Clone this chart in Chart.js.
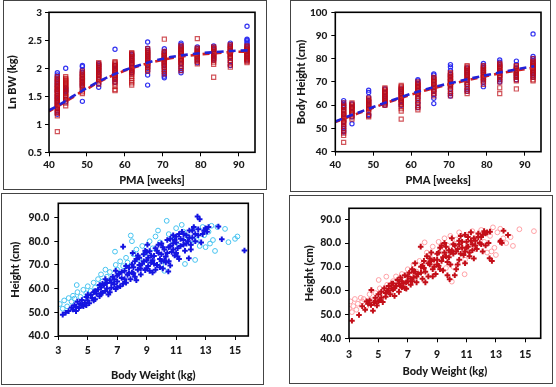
<!DOCTYPE html>
<html><head><meta charset="utf-8">
<script src="https://cdn.jsdelivr.net/npm/chart.js@4"></script>
<style>
html,body{margin:0;padding:0;background:#fff;width:556px;height:387px;overflow:hidden}
.panel{position:absolute;border:1px solid #444;box-sizing:border-box}
canvas{position:absolute;left:0;top:0}
</style></head><body>
<div class="panel" style="left:3px;top:0;width:264px;height:190px"></div>
<div class="panel" style="left:290px;top:0;width:261px;height:192px"></div>
<div class="panel" style="left:1px;top:193px;width:263px;height:192px"></div>
<div class="panel" style="left:289px;top:195px;width:264px;height:189px"></div>
<canvas id="c1" width="556" height="387"></canvas>
<canvas id="c2" width="556" height="387"></canvas>
<canvas id="c3" width="556" height="387"></canvas>
<canvas id="c4" width="556" height="387"></canvas>
<script>
// ---------- DATA ----------
const pmaGroups = [42.2, 44.4, 48.8, 53.1, 57.4, 61.8, 66.0, 70.4, 74.8, 79.1, 83.4, 87.8, 92.2];
const pmaTicks = [40, 50, 60, 70, 80, 90];
const lnBwTicks = [0.5, 1, 1.5, 2, 2.5, 3];
const heightTicksTop = [40, 50, 60, 70, 80, 90, 100];
const weightTicks = [3, 5, 7, 9, 11, 13, 15];
const heightTicksBottom = [40, 50, 60, 70, 80, 90];

// Ln BW per PMA group
const lnBwBlue = [
 [1.92,1.88,1.85,1.80,1.76,1.72,1.68,1.62,1.58,1.52,1.47,1.42,1.38,1.33,1.28,1.22,1.18],
 [2.00,1.65,1.62,1.60,1.58,1.45,1.40],
 [2.05,2.03,1.97,1.93,1.88,1.82,1.77,1.72,1.68,1.41],
 [2.08,2.05,2.02,1.98,1.93,1.88,1.80,1.72,1.66],
 [2.34,2.05,2.00,1.96,1.92,1.85,1.80,1.75],
 [2.25,2.22,2.18,2.14,2.08,2.02,1.96,1.92],
 [2.47,2.36,2.32,2.28,2.24,2.20,2.15,2.10,2.05,2.00,1.95,1.88,1.70],
 [2.35,2.30,2.25,2.20,2.15,2.10,2.05,2.00,1.95,1.90,1.86,1.83],
 [2.45,2.42,2.38,2.33,2.28,2.22,2.15,2.08,2.02,1.96,1.92],
 [2.38,2.35,2.30,2.25,2.20,2.15,2.10],
 [2.40,2.37,2.34,2.30,2.26,2.22,2.18,2.15],
 [2.45,2.42,2.38,2.32,2.26,2.20,2.12,2.05],
 [2.75,2.52,2.50,2.47,2.44,2.40,2.35,2.30,2.25,2.20,2.15]
];
const lnBwRed = [
 [1.85,1.82,1.80,1.77,1.75,1.72,1.70,1.68,1.66,1.64,1.62,1.60,1.58,1.56,1.55,1.52,1.50,1.48,1.46,1.45,1.42,1.40,1.38,1.36,1.34,1.32,1.30,1.28,1.25,1.22,1.20,1.15,0.87],
 [1.85,1.82,1.80,1.78,1.76,1.74,1.72,1.70,1.68,1.66,1.64,1.62,1.60,1.57,1.55,1.52,1.50,1.48,1.45,1.43,1.38,1.33],
 [1.95,1.92,1.90,1.88,1.86,1.84,1.82,1.80,1.78,1.76,1.74,1.72,1.70,1.68,1.66,1.62,1.58,1.55],
 [2.10,2.08,2.06,2.04,2.02,2.00,1.98,1.96,1.95,1.92,1.90,1.88,1.86,1.84,1.82,1.80,1.76,1.72],
 [2.12,2.10,2.08,2.06,2.04,2.02,2.00,1.98,1.96,1.94,1.92,1.90,1.88,1.86,1.84,1.82,1.80,1.76,1.72,1.68,1.62,1.60],
 [2.28,2.26,2.25,2.22,2.20,2.18,2.16,2.14,2.12,2.10,2.08,2.06,2.04,2.02,2.00,1.98,1.96,1.94,1.92,1.90,1.86,1.82,1.78,1.74,1.70],
 [2.35,2.32,2.30,2.28,2.26,2.24,2.22,2.20,2.18,2.16,2.14,2.12,2.10,2.08,2.06,2.04,2.02,1.98,1.95],
 [2.52,2.30,2.28,2.26,2.24,2.22,2.20,2.18,2.16,2.14,2.12,2.10,2.08,2.06,2.04,2.02,1.98,1.94,1.90],
 [2.40,2.38,2.36,2.34,2.32,2.30,2.28,2.26,2.24,2.22,2.20,2.18,2.16,2.14,2.12,2.10,2.08,2.04,2.00,1.96],
 [2.53,2.36,2.34,2.32,2.30,2.28,2.26,2.24,2.22,2.20,2.18,2.16,2.14,2.12,2.08],
 [2.38,2.36,2.35,2.33,2.31,2.29,2.27,2.25,2.23,2.21,2.19,2.17,2.15,2.11,2.07,1.84],
 [2.42,2.40,2.38,2.36,2.34,2.32,2.30,2.28,2.26,2.24,2.22,2.20,2.18,2.14,2.10,2.06,2.02],
 [2.40,2.38,2.36,2.34,2.32,2.30,2.28,2.26,2.24,2.22,2.20,2.18,2.16,2.14,2.12,2.10]
];
const lnBwFitPma = [40, 42, 44, 46, 48, 50, 53, 56, 60, 64, 68, 72, 76, 80, 84, 88, 92.5];
const lnBwFitBlue = [1.25, 1.32, 1.40, 1.49, 1.57, 1.65, 1.76, 1.86, 1.97, 2.06, 2.14, 2.20, 2.24, 2.27, 2.29, 2.31, 2.32];
const lnBwFitRed  = [1.23, 1.31, 1.39, 1.47, 1.56, 1.63, 1.75, 1.85, 1.96, 2.05, 2.12, 2.18, 2.22, 2.25, 2.27, 2.29, 2.30];

// Body height per PMA group
const heightBlue = [
 [62,61,60,59,58,56,55,53,51,50,49,48.5],
 [60.5,59,57,55,52],
 [66.5,65.5,63.5,62,61,60,58.5,56,55.5],
 [67,65.5,64,63,62,61,60],
 [67,66,65,63,62,60],
 [71,70.5,69.5,68,66.5,65,63,61,59],
 [73.5,73,72,70.5,69,67.5,66,64.5,63,60.7],
 [77.5,76.5,75,73.5,72.5,71,69,67,65,64],
 [76,75,74,73,71,69,67,66],
 [78,77,76,75,74,72.5,71,70,68],
 [79.5,78.5,77.5,76.5,75,74,72.5,71,70],
 [79,77.5,76,75,74,73,72,71],
 [90.7,81,80,79,78,77,76,75,74,73,72]
];
const heightRed = [
 [61,60,59.5,59,58,57.5,57,56.5,56,55.5,55,54.5,54,53.5,53,52.5,52,51,50,49,48,47,44],
 [61,60.5,60,59.5,59,58.5,58,57.5,57,56.5,56,55,54],
 [63,62.5,62,61.5,61,60.5,60,59.5,59,58.5,58,57,55.5,55],
 [67.5,67,66.5,66,65.5,65,64.5,64,63.5,63,62.5,62,61.5,61,60.5,60],
 [68.5,68,67.5,67,66.5,66,65.5,65,64.5,64,63.5,63,62.5,62,61.5,61,60.5,59.5,58.5,57.5,54],
 [70,69.5,69,68.5,68,67.5,67,66.5,66,65.5,65,64.5,64,63,62,61,60,59,58],
 [72,71.5,71,70.5,70,69.5,69,68.5,68,67.5,67,66.5,66,65,64],
 [74,73.5,73,72.5,72,71.5,71,70.5,70,69.5,69,68.5,68,67,66,65,64],
 [77,76.5,76,75.5,75,74.5,74,73.5,73,72.5,72,71.5,71,70.5,70,69,68,67,66,65],
 [77,76.5,76,75.5,75,74.5,74,73.5,73,72.5,72,71.5,71,70,69],
 [78,77.5,77,76.5,76,75.5,75,74.5,74,73.5,73,72.5,72,71,70,67.5,65],
 [77,76.5,76,75.5,75,74.5,74,73.5,73,72.5,72,71,70.5,67],
 [80,79,78.5,78,77.5,77,76.5,76,75.5,75,74.5,74,73.5,73,72,71,70.5]
];
const heightFitBlue = [53.0, 54.3, 55.6, 56.8, 58.0, 59.2, 61.0, 62.7, 65.0, 66.9, 68.6, 70.1, 71.6, 73.0, 74.3, 75.5, 76.8];
const heightFitRed  = [52.8, 54.0, 55.3, 56.5, 57.7, 58.9, 60.7, 62.4, 64.6, 66.5, 68.2, 69.7, 71.2, 72.6, 73.9, 75.0, 76.2];

// Weight (kg) vs Height (cm), bottom-left
const boysDark = [[3.3,49.0],[3.5,49.8],[3.7,50.5],[3.9,52.0],[4.0,51.2],[4.1,53.0],[4.2,52.3],[4.3,54.5],[4.4,51.8],[4.5,53.5],[4.6,55.2],[4.7,52.6],[4.8,54.0],[4.9,56.5],[5.0,55.0],[5.1,53.8],[5.2,57.3],[5.3,56.0],[5.4,58.5],[5.5,55.5],[5.6,57.8],[5.7,59.6],[5.8,56.8],[5.9,60.5],[6.0,58.2],[6.1,61.5],[6.2,59.0],[6.3,62.4],[6.4,57.5],[6.5,63.5],[6.6,60.4],[6.7,65.0],[6.8,61.8],[6.9,59.8],[7.0,63.0],[7.1,66.2],[7.2,61.0],[7.3,64.5],[7.4,77.7],[7.5,67.5],[7.6,62.5],[7.7,65.8],[7.8,68.8],[7.9,64.0],[8.0,70.2],[8.05,75.0],[8.1,66.5],[8.2,71.5],[8.3,63.5],[8.4,68.0],[8.5,73.0],[8.6,66.0],[8.7,70.5],[8.8,74.5],[8.9,67.8],[9.0,72.0],[9.05,78.5],[9.1,69.5],[9.2,75.8],[9.3,71.0],[9.4,66.8],[9.5,73.8],[9.6,77.0],[9.7,70.0],[9.8,75.0],[9.9,72.5],[10.0,79.0],[10.1,68.5],[10.2,76.5],[10.3,73.5],[10.4,80.5],[10.5,71.5],[10.47,67.2],[10.6,78.0],[10.7,75.5],[10.8,82.5],[10.9,74.0],[11.0,79.5],[11.1,77.0],[11.2,72.5],[11.3,81.0],[11.4,84.0],[11.5,78.5],[11.6,76.0],[11.7,82.5],[11.8,80.0],[11.86,72.8],[11.9,84.5],[12.0,78.5],[12.1,81.5],[12.2,86.0],[12.3,83.0],[12.45,90.4],[12.5,85.0],[12.6,89.3],[12.7,79.5],[12.8,83.0],[13.0,85.5],[13.1,84.0],[13.87,86.2],[14.1,80.8],[15.64,76.1],
 [6.0,62.0],[6.5,58.5],[7.0,60.5],[7.5,64.0],[8.0,66.8],[8.5,70.0],[9.0,68.5],[9.0,75.5],[9.5,70.5],[10.0,74.5],[10.5,77.5],[11.0,75.0],[11.5,80.5],[8.2,65.0],[8.8,71.5],[9.3,74.0],[9.8,78.5],[10.3,71.0],[10.8,79.0],[7.3,67.0],[6.8,64.0],[5.5,59.0],[4.9,53.0],[5.8,61.5],[6.3,60.0],[12.0,76.5],[11.2,83.0],[10.6,69.8],[9.6,68.0],
 [4.2,50.5],[4.6,53.0],[5.0,57.5],[5.4,55.0],[5.9,58.0],[6.2,64.0],[6.6,62.5],[7.0,65.5],[7.4,62.0],[7.8,66.5],[8.1,69.0],[8.3,72.5],[8.6,68.5],[8.9,76.0],[9.1,73.0],[9.4,72.0],[9.7,76.0],[9.9,69.0],[10.1,77.5],[10.2,72.0],[10.4,75.0],[10.6,81.0],[10.8,76.5],[11.0,82.0],[11.1,73.5],[11.3,78.0],[11.5,83.0],[11.7,79.0],[11.9,81.5],[12.1,84.5],[12.3,80.0],[12.5,82.5],[12.9,84.5],[13.2,86.0],[7.6,69.5],[8.4,74.0],[9.2,67.5],[10.0,71.5],[10.9,80.5],[6.9,67.5]];
const boysLight = [[3.1,53.5],[3.3,51.5],[3.4,55.0],[3.6,52.5],[3.7,56.0],[3.9,54.5],[4.0,57.0],[4.1,55.8],[4.25,61.5],[4.3,58.5],[4.5,56.5],[4.7,59.5],[4.9,58.0],[5.0,61.0],[5.2,59.0],[5.4,62.5],[5.5,60.5],[5.7,64.0],[5.9,66.0],[6.0,63.0],[6.2,68.0],[6.3,65.0],[6.5,67.0],[6.6,63.5],[6.85,75.6],[6.9,70.0],[7.0,68.0],[7.2,71.5],[7.4,69.5],[7.6,73.0],[7.7,71.0],[7.92,82.4],[8.0,80.0],[8.1,74.5],[8.3,76.5],[8.5,72.5],[8.7,78.0],[8.9,75.0],[9.0,70.5],[9.2,80.0],[9.4,77.0],[9.6,82.0],[9.77,84.5],[9.9,79.5],[10.0,70.0],[10.2,67.5],[10.36,88.6],[10.5,83.0],[10.7,80.5],[11.0,85.5],[11.2,78.0],[11.38,86.9],[11.5,84.0],[11.6,70.4],[11.8,82.0],[12.0,79.0],[12.2,85.5],[12.29,72.1],[12.4,80.5],[12.6,78.0],[12.8,86.0],[13.0,77.5],[13.2,84.0],[13.4,86.5],[13.5,80.5],[13.64,75.9],[13.8,86.0],[14.32,85.2],[14.55,79.6],[15.0,81.0],[15.16,82.0],[12.9,82.5],[13.3,79.0]];

// Weight (kg) vs Height (cm), bottom-right
const girlsDark = [[3.2,47.4],[3.68,49.8],[3.9,53.5],[4.1,52.0],[4.3,54.5],[4.4,56.0],[4.52,60.3],[4.63,51.6],[4.7,55.0],[4.8,57.0],[4.9,53.8],[5.0,58.5],[5.1,56.0],[5.2,59.5],[5.3,55.2],[5.4,61.0],[5.5,57.5],[5.6,60.0],[5.7,62.0],[5.8,58.5],[5.9,63.0],[6.0,60.5],[6.1,57.8],[6.2,62.0],[6.3,64.5],[6.4,59.5],[6.5,65.5],[6.6,61.5],[6.7,63.0],[6.8,66.5],[6.9,60.8],[7.0,64.0],[7.1,67.5],[7.2,62.5],[7.3,69.0],[7.4,65.5],[7.5,71.5],[7.6,63.5],[7.7,67.0],[7.88,78.5],[7.9,70.0],[8.0,65.0],[8.1,72.5],[8.2,68.0],[8.3,74.5],[8.4,66.0],[8.5,71.0],[8.6,76.0],[8.7,69.0],[8.8,73.0],[8.9,67.0],[9.0,75.5],[9.1,70.5],[9.2,78.0],[9.3,72.5],[9.4,68.5],[9.5,80.0],[9.6,74.5],[9.7,66.5],[9.85,64.8],[9.8,77.0],[9.9,71.0],[10.0,82.0],[10.1,75.5],[10.2,79.0],[10.3,69.0],[10.4,77.5],[10.5,73.0],[10.6,83.0],[10.7,80.5],[10.8,75.0],[10.9,71.5],[11.0,78.0],[11.1,82.5],[11.2,76.0],[11.3,84.5],[11.4,79.5],[11.5,73.5],[11.6,81.0],[11.7,77.5],[11.8,84.0],[11.9,80.0],[12.0,82.5],[12.1,76.5],[12.2,85.0],[12.3,79.0],[12.4,84.5],[12.57,73.6],[12.73,72.5],[13.32,81.0],[13.4,80.0],[13.52,85.2],[13.82,83.4],
 [6.0,63.0],[6.5,62.0],[7.0,66.0],[7.5,68.0],[8.0,70.5],[8.5,73.5],[9.0,73.0],[9.5,76.0],[10.0,77.0],[10.5,79.5],[11.0,80.5],[11.5,82.0],[8.2,63.5],[8.7,66.0],[9.2,69.0],[9.8,74.0],[10.4,71.0],[10.9,76.5],[7.3,64.0],[6.8,61.0],[5.5,59.0],[5.0,55.5],[4.5,54.0],[12.0,79.5],[11.2,74.5],[10.2,66.5],[9.3,79.0],[12.5,80.0],[13.3,80.5],
 [4.2,55.5],[4.8,55.5],[5.2,57.0],[5.7,60.0],[6.1,61.0],[6.4,63.0],[6.9,63.5],[7.2,65.0],[7.6,66.0],[7.9,67.5],[8.1,69.5],[8.4,71.5],[8.8,70.0],[9.0,71.0],[9.1,76.0],[9.4,74.0],[9.6,78.5],[9.9,76.0],[10.1,79.5],[10.3,76.5],[10.5,81.0],[10.7,78.0],[10.9,83.5],[11.1,78.5],[11.3,81.0],[11.6,79.0],[11.8,82.5],[12.1,83.5],[12.3,84.0],[12.6,84.8],[8.6,72.5],[9.7,72.0],[10.6,75.5],[11.4,77.0],[7.4,68.0],[6.6,64.0],[5.9,61.0]];
const girlsLight = [[3.0,52.5],[3.1,55.5],[3.2,51.0],[3.3,53.5],[3.4,56.5],[3.5,52.0],[3.6,54.5],[3.8,57.0],[3.9,55.5],[4.0,56.5],[4.2,53.5],[4.4,58.5],[4.6,56.0],[4.8,59.0],[5.02,64.5],[5.1,61.0],[5.3,58.5],[5.54,65.9],[5.6,62.5],[5.8,60.0],[6.0,64.0],[6.2,66.0],[6.4,62.0],[6.6,67.0],[6.8,64.5],[7.0,69.0],[7.2,66.5],[7.4,71.0],[7.6,68.0],[7.8,72.5],[8.0,70.0],[8.15,80.3],[8.3,76.0],[8.5,74.0],[8.7,78.5],[8.9,72.0],[9.1,80.5],[9.3,76.5],[9.5,82.0],[9.7,79.0],[9.9,83.0],[10.0,63.8],[10.1,70.0],[10.3,81.5],[10.5,84.5],[10.7,78.0],[10.87,66.9],[11.0,83.5],[11.2,80.0],[11.4,85.0],[11.6,77.5],[11.8,83.0],[12.0,85.5],[12.2,80.5],[12.4,76.0],[12.6,83.0],[12.8,86.6],[12.9,78.0],[13.0,75.0],[13.1,84.5],[13.3,86.0],[13.5,82.0],[13.7,80.0],[14.0,82.5],[14.16,78.8],[14.6,85.8],[15.59,85.0],[12.7,76.5],[9.6,69.5],[10.9,73.0]];

// ---------- RENDERING ----------
const TXT = '#1a1a1a';
const FONT = 'Lato, sans-serif';

const framePlugin = {
  id: 'frame',
  afterDatasetsDraw(chart) {
    const {ctx, chartArea: a} = chart;
    ctx.save();
    ctx.strokeStyle = '#000';
    ctx.lineWidth = 1.6;
    ctx.strokeRect(a.left, a.top, a.right - a.left, a.bottom - a.top);
    ctx.restore();
  }
};

function groupPoints(groups) {
  const pts = [];
  groups.forEach((vals, i) => vals.forEach(v => pts.push({x: pmaGroups[i], y: v})));
  return pts;
}
function pairPoints(list) { return list.map(p => ({x: p[0], y: p[1]})); }
function linePoints(xs, ys) { return xs.map((x, i) => ({x: x, y: ys[i]})); }

function makeChart(id, datasets, o) {
  const axLeft = o.yTitleX - 6.6;
  const axBottom = o.xTitleY + 6.6;
  const tickFont = {family: FONT, size: o.tickSize, weight: 900};
  const titleFont = {family: FONT, size: o.titleSize, weight: 900};
  new Chart(document.getElementById(id), {
    type: 'scatter',
    data: {datasets: datasets},
    plugins: [framePlugin],
    options: {
      responsive: false, animation: false,
      layout: {padding: {left: axLeft, top: o.T, right: 556 - o.R, bottom: 387 - axBottom}},
      plugins: {legend: {display: false}, tooltip: {enabled: false}},
      scales: {
        x: {
          type: 'linear', min: o.xmin, max: o.xmax,
          afterBuildTicks: s => { s.ticks = o.xticks.map(v => ({value: v})); },
          ticks: {padding: o.xpad, color: TXT, font: tickFont, maxRotation: 0, autoSkip: false, callback: o.xfmt || (v => String(v))},
          grid: {display: true, drawOnChartArea: false, drawTicks: true, tickLength: 4, color: '#000', lineWidth: 1},
          border: {display: false},
          title: {display: true, text: o.xtitle, color: TXT, font: titleFont, padding: 0},
          afterFit: s => { s.height = axBottom - o.B; }
        },
        y: {
          type: 'linear', min: o.ymin, max: o.ymax,
          afterBuildTicks: s => { s.ticks = o.yticks.map(v => ({value: v})); },
          ticks: {padding: o.ypad, color: TXT, font: tickFont, autoSkip: false, callback: o.yfmt || (v => String(v))},
          grid: {display: true, drawOnChartArea: false, drawTicks: true, tickLength: 4, color: '#000', lineWidth: 1},
          border: {display: false},
          title: {display: true, text: o.ytitle, color: TXT, font: titleFont, padding: 0},
          afterFit: s => { s.width = o.L - axLeft; }
        }
      }
    }
  });
}

const BLUE = 'rgba(40,40,240,0.95)';
const RED = 'rgba(190,12,20,0.7)';
function dashLine(xs, ys, color, offset) {
  return {data: linePoints(xs, ys), showLine: true, borderColor: color, borderWidth: 2.6,
          borderDash: [7, 5], borderDashOffset: offset, pointRadius: 0, fill: false};
}
function circles(pts, color, r, w) {
  return {data: pts, pointStyle: 'circle', pointRadius: r, pointBorderWidth: w,
          pointBorderColor: color, pointBackgroundColor: 'rgba(0,0,0,0)', borderColor: color};
}
function squares(pts, color) {
  return {data: pts, pointStyle: 'rect', pointRadius: 2.9, pointBorderWidth: 1.2,
          pointBorderColor: color, pointBackgroundColor: 'rgba(0,0,0,0)', borderColor: color};
}
function pluses(pts, color) {
  return {data: pts, pointStyle: 'cross', pointRadius: 2.8, pointBorderWidth: 2,
          pointBorderColor: color, borderColor: color};
}

makeChart('c1', [
  dashLine(lnBwFitPma, lnBwFitBlue, '#2222d8', 0),
  dashLine(lnBwFitPma, lnBwFitRed, '#d42020', 2),
  squares(groupPoints(lnBwRed), RED),
  circles(groupPoints(lnBwBlue), BLUE, 2.1, 1.2)
], {L: 49, T: 12.3, R: 255, B: 152.3, yTitleX: 12, xTitleY: 180, tickSize: 10, titleSize: 11,
    xmin: 40, xmax: 94.3, ymin: 0.5, ymax: 3, xticks: pmaTicks, yticks: lnBwTicks,
    xpad: 2, ypad: 3, xtitle: 'PMA [weeks]', ytitle: 'Ln BW (kg)'});

makeChart('c2', [
  dashLine(lnBwFitPma, heightFitBlue, '#2222d8', 0),
  dashLine(lnBwFitPma, heightFitRed, '#d42020', 2),
  squares(groupPoints(heightRed), RED),
  circles(groupPoints(heightBlue), BLUE, 2.1, 1.2)
], {L: 335.3, T: 12.3, R: 541, B: 151.7, yTitleX: 301, xTitleY: 180, tickSize: 10, titleSize: 11,
    xmin: 40, xmax: 94.3, ymin: 40, ymax: 100, xticks: pmaTicks, yticks: heightTicksTop,
    xpad: 3, ypad: 4, xtitle: 'PMA [weeks]', ytitle: 'Body Height (cm)'});

makeChart('c3', [
  pluses(pairPoints(boysDark), 'rgb(20,20,225)'),
  circles(pairPoints(boysLight), 'rgb(70,195,240)', 2.4, 1)
], {L: 58.3, T: 203.3, R: 248.3, B: 336, yTitleX: 15.3, xTitleY: 375.7, tickSize: 10.5, titleSize: 11,
    xmin: 3, xmax: 15.9, ymin: 40, ymax: 96, xticks: weightTicks, yticks: heightTicksBottom,
    xpad: 4, ypad: 5, xtitle: 'Body Weight (kg)', ytitle: 'Height (cm)', yfmt: v => v.toFixed(1)});

makeChart('c4', [
  pluses(pairPoints(girlsDark), 'rgb(195,15,25)'),
  circles(pairPoints(girlsLight), 'rgb(255,160,165)', 2.4, 1)
], {L: 349, T: 208.3, R: 540.7, B: 338.3, yTitleX: 309.7, xTitleY: 371.7, tickSize: 10.5, titleSize: 11,
    xmin: 3, xmax: 16.05, ymin: 40, ymax: 94.6, xticks: weightTicks, yticks: heightTicksBottom,
    xpad: 6, ypad: 4, xtitle: 'Body Weight (kg)', ytitle: 'Height (cm)', yfmt: v => v.toFixed(1)});
</script>
</body></html>
